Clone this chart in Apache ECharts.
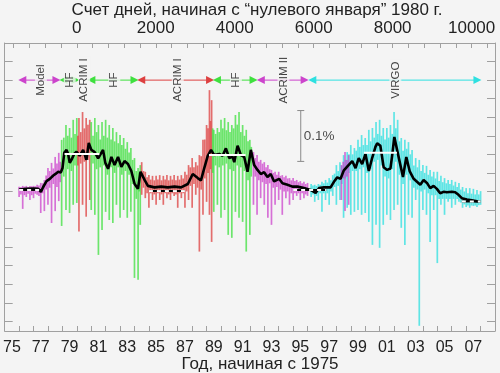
<!DOCTYPE html>
<html><head><meta charset="utf-8">
<script src="https://cdn.jsdelivr.net/npm/echarts@6/dist/echarts.min.js"></script>
<style>html,body{margin:0;padding:0;background:#f4f4f4}#c{width:500px;height:373px}</style>
</head><body><div id="c"></div>
<script>
// ---- data (TSI in W/m^2, time in decimal years) ----
const topTitle = 'Счет дней, начиная с “нулевого января” 1980 г.';
const bottomTitle = 'Год, начиная с 1975';
const dayLabels = [0, 2000, 4000, 6000, 8000, 10000];
const dayTicks = [-1600,-1200,-800,-400,0,400,800,1200,1600,2000,2400,2800,3200,3600,4000,4400,4800,5200,5600,6000,6400,6800,7200,7600,8000,8400,8800,9200,9600,10000,10400];
const yearLabels = [1975.5,1977.5,1979.5,1981.5,1983.5,1985.5,1987.5,1989.5,1991.5,1993.5,1995.5,1997.5,1999.5,2001.5,2003.5,2005.5,2007.5];
const yearTicks = [1976,1977,1978,1979,1980,1981,1982,1983,1984,1985,1986,1987,1988,1989,1990,1991,1992,1993,1994,1995,1996,1997,1998,1999,2000,2001,2002,2003,2004,2005,2006,2007,2008];
const tsiTicks = [1362,1362.5,1363,1363.5,1364,1364.5,1365,1365.5,1366,1366.5,1367,1367.5,1368,1368.5,1369,1369.5];

// daily data envelopes: [year, high, low]  (extreme days)
const modelDaily = [[1976.00,1365.63,1365.35],[1976.25,1365.65,1365.03],[1976.50,1365.65,1365.35],[1976.75,1365.65,1365.27],[1977.00,1365.65,1365.32],[1977.25,1365.68,1365.41],[1977.50,1365.73,1364.92],[1977.75,1365.81,1364.97],[1978.00,1366.13,1365.14],[1978.25,1366.27,1364.65],[1978.50,1366.43,1364.97],[1978.75,1366.54,1365.24]];
const hfDaily1 = [[1978.95,1366.89,1364.57],[1979.25,1367.29,1365.00],[1979.50,1367.21,1364.92],[1979.75,1367.43,1365.14],[1980.00,1367.48,1365.19]];
const acrim1Daily1 = [[1980.15,1367.48,1364.42],[1980.40,1367.64,1365.14],[1980.65,1367.48,1364.82],[1980.90,1367.43,1365.27]];
const hfDaily2 = [[1981.00,1367.37,1365.00],[1981.25,1367.48,1364.87],[1981.50,1367.29,1363.79],[1981.75,1367.37,1364.46],[1982.00,1367.43,1364.95],[1982.25,1367.29,1364.73],[1982.50,1367.21,1364.65],[1982.75,1367.10,1365.14],[1983.00,1367.02,1364.79],[1983.25,1366.94,1365.00],[1983.50,1366.83,1364.79],[1983.75,1366.67,1364.95],[1984.00,1366.40,1363.17],[1984.25,1366.13,1363.12],[1984.40,1366.21,1364.60]];
const acrim1Daily2 = [[1984.50,1366.29,1365.41],[1984.75,1366.03,1365.32],[1985.00,1365.94,1365.06],[1985.25,1365.92,1365.27],[1985.50,1365.92,1365.14],[1985.75,1365.94,1365.27],[1986.00,1365.92,1365.14],[1986.25,1365.94,1365.32],[1986.50,1365.92,1365.27],[1986.75,1365.94,1365.38],[1987.00,1365.92,1365.06],[1987.25,1365.94,1365.32],[1987.50,1366.03,1365.06],[1987.75,1366.21,1365.27],[1988.00,1366.40,1365.06],[1988.25,1366.29,1365.41],[1988.50,1366.48,1363.88],[1988.75,1366.89,1364.87],[1989.00,1367.29,1365.22],[1989.20,1368.23,1364.87],[1989.35,1367.96,1364.14]];
const hfDaily3 = [[1989.50,1367.16,1364.95],[1989.75,1367.21,1365.14],[1990.00,1367.43,1364.79],[1990.25,1367.48,1365.00],[1990.50,1367.37,1364.33],[1990.75,1367.29,1364.25],[1991.00,1367.56,1364.95],[1991.25,1367.64,1364.79],[1991.50,1367.29,1364.68],[1991.75,1367.16,1363.88],[1992.00,1366.89,1364.33]];
const acrim2Daily = [[1992.25,1366.56,1365.14],[1992.50,1366.48,1364.87],[1992.75,1366.35,1365.32],[1993.00,1366.29,1365.14],[1993.25,1366.21,1364.79],[1993.50,1366.08,1364.60],[1993.75,1366.03,1365.14],[1994.00,1366.03,1365.27],[1994.25,1365.94,1364.87],[1994.50,1365.92,1365.32],[1994.75,1365.86,1365.14],[1995.00,1365.86,1365.27],[1995.25,1365.81,1365.38],[1995.50,1365.78,1365.27],[1995.75,1365.76,1365.32],[1996.00,1365.73,1365.38]];
const acrim2Daily98 = [[1998.35,1366.21,1365.27],[1998.60,1366.56,1364.97],[1998.85,1366.48,1365.14]];
const virgoDaily = [[1996.25,1365.70,1365.35],[1996.50,1365.68,1365.22],[1996.75,1365.70,1365.27],[1997.00,1365.76,1364.95],[1997.25,1365.81,1365.27],[1997.50,1365.86,1365.14],[1997.75,1365.94,1365.38],[1998.00,1366.21,1365.14],[1998.25,1366.29,1365.27],[1998.50,1366.48,1364.79],[1998.75,1366.56,1365.06],[1999.00,1366.75,1364.87],[1999.25,1366.67,1364.95],[1999.50,1366.89,1365.00],[1999.75,1367.02,1364.87],[2000.00,1366.94,1364.92],[2000.25,1367.16,1364.68],[2000.50,1367.21,1364.06],[2000.75,1367.37,1364.60],[2001.00,1367.43,1363.98],[2001.25,1367.21,1364.60],[2001.50,1367.21,1364.87],[2001.75,1367.29,1364.73],[2002.00,1367.64,1365.00],[2002.25,1367.43,1365.14],[2002.50,1366.94,1364.52],[2002.75,1366.89,1364.06],[2003.00,1366.83,1364.87],[2003.25,1366.62,1364.79],[2003.50,1366.40,1365.27],[2003.75,1366.35,1361.88],[2004.00,1366.21,1365.00],[2004.25,1366.19,1364.87],[2004.50,1366.08,1364.14],[2004.75,1366.03,1365.00],[2005.00,1366.03,1363.57],[2005.25,1365.92,1365.14],[2005.50,1365.86,1364.87],[2005.75,1365.81,1365.22],[2006.00,1365.81,1365.06],[2006.25,1365.76,1365.14],[2006.50,1365.73,1365.22],[2006.75,1365.62,1365.06],[2007.00,1365.59,1365.08],[2007.25,1365.59,1365.06],[2007.50,1365.57,1365.11],[2007.75,1365.54,1365.08],[2008.00,1365.51,1365.14]];

// typical (quieter) days between the extremes: [year, high, low]
const modelCore = [[1976.125,1365.62,1365.42],[1976.375,1365.63,1365.40],[1976.625,1365.62,1365.44],[1976.875,1365.64,1365.40],[1977.125,1365.64,1365.44],[1977.375,1365.66,1365.38],[1977.625,1365.72,1365.45],[1977.875,1365.93,1365.55],[1978.125,1366.05,1365.60],[1978.375,1366.12,1365.70],[1978.625,1366.25,1365.62],[1978.85,1366.30,1365.75]];
const hfCore1 = [[1979.10,1366.95,1365.90],[1979.375,1367.00,1366.10],[1979.625,1366.95,1366.05],[1979.875,1367.05,1366.20]];
const acrim1Core1 = [[1980.075,1367.00,1366.20],[1980.275,1367.10,1366.25],[1980.525,1367.20,1366.30],[1980.775,1367.30,1366.35]];
const hfCore2 = [[1981.125,1367.00,1366.25],[1981.375,1367.10,1366.10],[1981.625,1366.90,1366.15],[1981.875,1367.00,1366.20],[1982.125,1366.95,1365.95],[1982.375,1366.90,1366.15],[1982.625,1366.85,1366.00],[1982.875,1366.80,1366.15],[1983.125,1366.75,1365.95],[1983.375,1366.65,1366.05],[1983.625,1366.55,1365.95],[1983.875,1366.35,1365.70],[1984.125,1366.05,1365.30],[1984.325,1366.00,1365.50]];
const acrim1Core2 = [[1984.625,1366.05,1365.60],[1984.875,1365.88,1365.45],[1985.125,1365.82,1365.45],[1985.375,1365.80,1365.42],[1985.625,1365.82,1365.45],[1985.875,1365.80,1365.42],[1986.125,1365.82,1365.45],[1986.375,1365.80,1365.42],[1986.625,1365.82,1365.45],[1986.875,1365.80,1365.42],[1987.125,1365.82,1365.45],[1987.375,1365.85,1365.45],[1987.625,1365.95,1365.50],[1987.875,1366.15,1365.65],[1988.125,1366.15,1365.70],[1988.375,1366.20,1365.60],[1988.625,1366.45,1365.55],[1988.875,1366.90,1365.85],[1989.10,1367.20,1366.00],[1989.275,1367.40,1366.10]];
const hfCore3 = [[1989.425,1367.20,1366.00],[1989.625,1367.05,1366.20],[1989.875,1367.10,1366.15],[1990.125,1367.20,1366.20],[1990.375,1367.15,1366.25],[1990.625,1367.10,1366.10],[1990.875,1367.20,1366.05],[1991.125,1367.30,1366.20],[1991.375,1367.10,1366.15],[1991.625,1367.00,1366.05],[1991.875,1366.85,1365.80],[1992.10,1366.70,1365.90]];
const acrim2Core = [[1992.375,1366.40,1365.90],[1992.625,1366.30,1365.80],[1992.875,1366.25,1365.75],[1993.125,1366.15,1365.70],[1993.375,1366.10,1365.72],[1993.625,1366.00,1365.60],[1993.875,1365.95,1365.62],[1994.125,1365.92,1365.55],[1994.375,1365.88,1365.50],[1994.625,1365.85,1365.50],[1994.875,1365.80,1365.45],[1995.125,1365.78,1365.45],[1995.375,1365.75,1365.45],[1995.625,1365.72,1365.45],[1995.875,1365.70,1365.42]];
const acrim2Core98 = [[1998.475,1366.30,1365.85],[1998.725,1366.35,1365.90]];
const virgoCore = [[1996.375,1365.66,1365.42],[1996.625,1365.65,1365.38],[1996.875,1365.68,1365.45],[1997.125,1365.72,1365.45],[1997.375,1365.74,1365.45],[1997.625,1365.80,1365.50],[1997.875,1365.98,1365.62],[1998.125,1366.05,1365.65],[1998.375,1366.20,1365.70],[1998.625,1366.35,1365.85],[1998.875,1366.50,1366.00],[1999.125,1366.50,1366.05],[1999.375,1366.60,1366.05],[1999.625,1366.70,1366.10],[1999.875,1366.75,1366.15],[2000.125,1366.75,1366.00],[2000.375,1366.85,1366.10],[2000.625,1366.95,1366.30],[2000.875,1367.05,1366.35],[2001.125,1367.00,1366.20],[2001.375,1366.90,1365.90],[2001.625,1366.95,1365.85],[2001.875,1367.05,1366.10],[2002.125,1367.20,1366.30],[2002.375,1366.85,1365.95],[2002.625,1366.60,1365.70],[2002.875,1366.65,1365.95],[2003.125,1366.50,1365.80],[2003.375,1366.20,1365.60],[2003.625,1366.15,1365.55],[2003.875,1366.05,1365.50],[2004.125,1366.00,1365.55],[2004.375,1365.95,1365.45],[2004.625,1365.90,1365.40],[2004.875,1365.85,1365.40],[2005.125,1365.78,1365.30],[2005.375,1365.75,1365.30],[2005.625,1365.72,1365.30],[2005.875,1365.70,1365.30],[2006.125,1365.66,1365.30],[2006.375,1365.62,1365.30],[2006.625,1365.55,1365.20],[2006.875,1365.50,1365.15],[2007.125,1365.45,1365.12],[2007.375,1365.44,1365.12],[2007.625,1365.42,1365.12],[2007.875,1365.42,1365.13]];

// smoothed composite: [year, TSI]
const smoothTSI = [[1975.99,1365.55],[1976.50,1365.57],[1977.00,1365.58],[1977.33,1365.57],[1977.51,1365.49],[1977.67,1365.62],[1977.90,1365.78],[1978.13,1365.84],[1978.37,1365.93],[1978.55,1365.98],[1978.71,1366.03],[1978.89,1366.01],[1979.01,1366.13],[1979.13,1366.54],[1979.29,1366.62],[1979.40,1366.51],[1979.51,1366.27],[1979.63,1366.35],[1979.82,1366.51],[1979.98,1366.57],[1980.20,1366.46],[1980.44,1366.62],[1980.67,1366.35],[1980.83,1366.81],[1981.01,1366.62],[1981.24,1366.56],[1981.48,1366.39],[1981.59,1366.40],[1981.82,1366.62],[1981.98,1366.27],[1982.17,1366.11],[1982.40,1366.43],[1982.62,1366.21],[1982.86,1366.43],[1983.09,1366.16],[1983.31,1366.32],[1983.55,1366.24],[1983.78,1366.05],[1984.01,1365.70],[1984.24,1365.57],[1984.42,1366.03],[1984.70,1365.81],[1984.93,1365.65],[1985.39,1365.61],[1985.85,1365.63],[1986.31,1365.61],[1986.77,1365.63],[1987.23,1365.61],[1987.70,1365.70],[1988.04,1365.97],[1988.39,1365.86],[1988.61,1365.80],[1988.84,1366.13],[1989.08,1366.46],[1989.31,1366.62],[1989.53,1366.48],[1989.88,1366.51],[1990.11,1366.46],[1990.34,1366.66],[1990.57,1366.40],[1990.80,1366.44],[1990.92,1366.29],[1991.15,1366.73],[1991.38,1366.48],[1991.61,1366.43],[1991.84,1366.03],[1992.07,1366.62],[1992.30,1366.21],[1992.53,1366.08],[1992.76,1365.97],[1992.99,1366.02],[1993.22,1365.89],[1993.45,1365.97],[1993.68,1365.77],[1994.03,1365.84],[1994.26,1365.72],[1994.61,1365.68],[1994.95,1365.63],[1995.30,1365.63],[1995.75,1365.59],[1996.22,1365.54],[1996.56,1365.46],[1996.79,1365.59],[1997.14,1365.61],[1997.60,1365.61],[1997.83,1365.76],[1998.06,1365.88],[1998.29,1365.84],[1998.52,1366.07],[1998.75,1366.17],[1999.10,1366.32],[1999.33,1366.13],[1999.55,1366.40],[1999.79,1366.24],[2000.02,1366.51],[2000.25,1366.05],[2000.48,1366.40],[2000.71,1366.70],[2000.83,1366.80],[2001.05,1366.73],[2001.28,1366.15],[2001.52,1366.08],[2001.75,1366.12],[2001.86,1366.44],[2002.02,1366.97],[2002.21,1366.62],[2002.44,1366.21],[2002.62,1365.89],[2002.85,1366.43],[2003.08,1366.05],[2003.36,1365.84],[2003.59,1365.76],[2003.82,1365.68],[2004.05,1365.81],[2004.28,1365.73],[2004.51,1365.59],[2004.74,1365.65],[2004.97,1365.57],[2005.20,1365.45],[2005.43,1365.49],[2005.66,1365.48],[2006.01,1365.49],[2006.24,1365.48],[2006.47,1365.41],[2006.70,1365.32],[2007.05,1365.28],[2007.39,1365.26],[2007.85,1365.23]];

// cycle levels: [start, end, TSI]
const maxLevels = [[1979.15,1981.57,1366.51],[1989.17,1991.70,1366.48],[1999.90,2002.20,1366.54]];
const minLevels = [[1976.00,1977.60,1365.54],[1985.00,1987.50,1365.51],[1995.00,1997.30,1365.54],[2006.70,2008.00,1365.23]];

// instrument spans: [label, colorKey, start, end, labelYear]
const instruments = [['Model','m',1976.22,1978.59,1977.51],['HF','g',1979.08,1979.91,1979.51],['ACRIM I','r',null,null,1980.51],['HF','g',1981.01,1984.00,1982.60],['ACRIM I','r',1984.47,1989.24,1987.00],['HF','g',1989.72,1992.26,1991.03],['ACRIM II','m',1992.76,1995.80,1994.33],['VIRGO','c',1996.33,2007.78,2002.09]];
const annotLevel = 1368.5;
const scaleBar = [1995.53, 1366.31, 1367.68];
const scaleLabel = '0.1%';

// ---- chart ----
const COL = {m:'#cc44cc', g:'#3fe03f', r:'#dd4040', c:'#2ee0e0'};
const BG = '#f4f4f4';
const FONT = '"Liberation Sans", Arial, sans-serif';
const AX = '#a0a0a0';
const yrToDay = y => (y - 1980) * 365.25;

function stroke(data, color){
  return {type:'custom', silent:true, z:1, data:data,
    encode:{x:0, y:[1,2]},
    renderItem:(params, api)=>{
      const a = api.coord([api.value(0), api.value(1)]);
      const b = api.coord([api.value(0), api.value(2)]);
      return {type:'line', shape:{x1:a[0], y1:a[1], x2:b[0], y2:b[1]}, style:{stroke:color, lineWidth:1.7, opacity:0.75}};
    }};
}
const series = [];
[[modelDaily,'m'],[modelCore,'m'],[hfDaily1,'g'],[hfCore1,'g'],[acrim1Daily1,'r'],[acrim1Core1,'r'],[hfDaily2,'g'],[hfCore2,'g'],
 [acrim1Daily2,'r'],[acrim1Core2,'r'],[hfDaily3,'g'],[hfCore3,'g'],[acrim2Daily,'m'],[acrim2Core,'m'],
 [virgoDaily,'c'],[virgoCore,'c'],[acrim2Daily98,'m'],[acrim2Core98,'m']].forEach(([d,k])=>series.push(stroke(d, COL[k])));
series.push({type:'line', data:smoothTSI, symbol:'none', silent:true, lineStyle:{color:'#000', width:2.6}, z:3});
maxLevels.forEach(l=>series.push({type:'line', data:[[l[0],l[2]],[l[1],l[2]]], symbol:'none', silent:true, lineStyle:{color:'#fff', width:2}, z:4}));
minLevels.forEach(l=>{
  series.push({type:'line', data:[[l[0],l[2]],[l[1],l[2]]], symbol:'none', silent:true, lineStyle:{color:'#000', width:2}, z:4});
  series.push({type:'line', data:[[l[0],l[2]],[l[1],l[2]]], symbol:'none', silent:true, lineStyle:{color:'#fff', width:2, type:[4,4]}, z:5});
});
instruments.forEach(a=>{
  if (a[2] === null) return;
  series.push({type:'line', silent:true, z:6, symbol:'triangle', symbolSize:[8,8], showSymbol:true, showAllSymbol:true,
    lineStyle:{color:COL[a[1]], width:1}, itemStyle:{color:COL[a[1]]},
    data:[{value:[a[2],annotLevel], symbolRotate:90},{value:[a[3],annotLevel], symbolRotate:-90}]});
});
series.push({type:'scatter', silent:true, z:7, symbolSize:1, itemStyle:{color:'rgba(0,0,0,0)'},
  data: instruments.map(a=>({name:a[0], value:[a[4],annotLevel]})),
  label:{show:true, position:'inside', rotate:90, formatter:'{b}', fontFamily:FONT, fontSize:11.5, color:'#111', backgroundColor:BG, padding:[0,2]}});
series.push({type:'line', silent:true, z:6, symbol:'rect', symbolSize:[7,1], showSymbol:true, lineStyle:{color:'#8a8a8a', width:1}, itemStyle:{color:'#8a8a8a'},
  data:[[scaleBar[0],scaleBar[1]],[scaleBar[0],scaleBar[2]]]});
series.push({type:'scatter', silent:true, z:7, symbolSize:1, itemStyle:{color:'rgba(0,0,0,0)'},
  data:[{name:scaleLabel, value:[scaleBar[0]+0.17,(scaleBar[1]+scaleBar[2])/2]}],
  label:{show:true, position:'right', distance:0, formatter:'{b}', fontFamily:FONT, fontSize:13.5, color:'#222'}});

const chart = echarts.init(document.getElementById('c'), null, {renderer:'canvas'});
chart.setOption({
  animation:false,
  backgroundColor:BG,
  grid:{left:3, right:5, top:43, bottom:42},
  xAxis:[
    {type:'value', position:'bottom', min:1975, max:2009, splitLine:{show:false},
     axisLine:{show:true, onZero:false, lineStyle:{color:AX}},
     axisTick:{show:true, inside:true, length:5, lineStyle:{color:AX}, customValues:yearTicks},
     axisLabel:{show:true, margin:9, customValues:yearLabels, fontFamily:FONT, fontSize:16, color:'#222',
       formatter:v=>String(Math.floor(v)%100).padStart(2,'0')}},
    {type:'value', position:'top', min:yrToDay(1975), max:yrToDay(2009), splitLine:{show:false},
     axisLine:{show:true, onZero:false, lineStyle:{color:AX}},
     axisTick:{show:true, inside:true, length:5, lineStyle:{color:AX}, customValues:dayTicks},
     axisLabel:{show:true, margin:6, customValues:dayLabels, fontFamily:FONT, fontSize:17, color:'#222', formatter:v=>String(v)}}
  ],
  yAxis:[
    {type:'value', position:'left', min:1361.74, max:1369.5, splitLine:{show:false},
     axisLine:{show:true, onZero:false, lineStyle:{color:AX}},
     axisTick:{show:true, inside:true, length:8, lineStyle:{color:AX}, customValues:tsiTicks},
     axisLabel:{show:false}},
    {type:'value', position:'right', min:1361.74, max:1369.5, splitLine:{show:false},
     axisLine:{show:true, onZero:false, lineStyle:{color:AX}},
     axisTick:{show:true, inside:true, length:8, lineStyle:{color:AX}, customValues:tsiTicks},
     axisLabel:{show:false}}
  ],
  graphic:[
    {type:'text', style:{x:257, y:10, text:topTitle, textAlign:'center', textVerticalAlign:'middle', font:'17px '+FONT, fill:'#222'}},
    {type:'text', style:{x:260, y:364, text:bottomTitle, textAlign:'center', textVerticalAlign:'middle', font:'17px '+FONT, fill:'#222'}}
  ],
  series: series
});
</script></body></html>
